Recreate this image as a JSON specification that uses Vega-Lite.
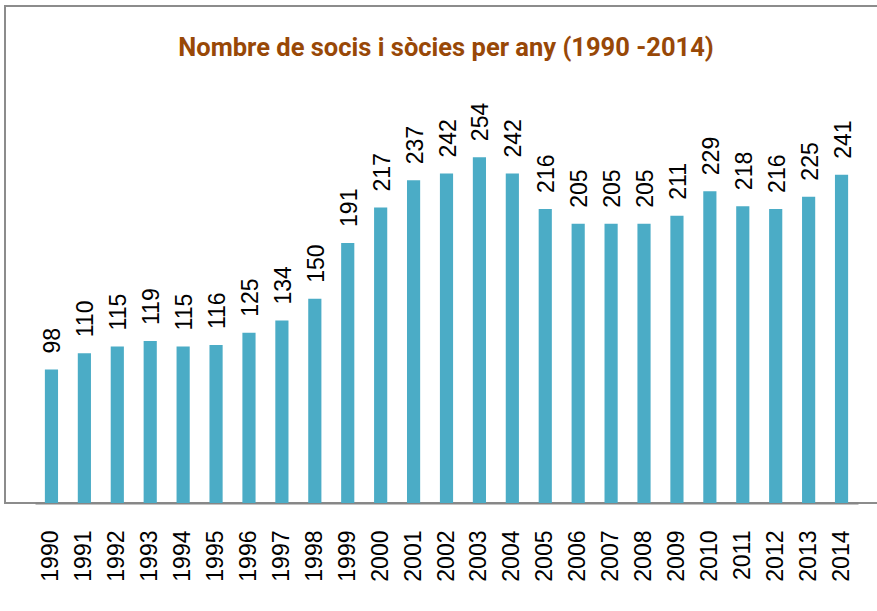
{
  "$schema": "https://vega.github.io/schema/vega-lite/v6.json",
  "width": 882,
  "height": 497,
  "autosize": {"type": "none"},
  "padding": {"left": 5, "top": 6, "right": 0, "bottom": 108},
  "background": "white",
  "title": {
    "text": "Nombre de socis i sòcies per any (1990 -2014)",
    "color": "#984807",
    "font": "Roboto",
    "fontSize": 25.5,
    "fontWeight": "bold",
    "anchor": "middle",
    "offset": -75,
    "baseline": "alphabetic"
  },
  "config": {
    "view": {"stroke": "#8c8c8c", "strokeWidth": 2}
  },
  "data": {
    "values": [
      {"year": "1990", "n": 98},
      {"year": "1991", "n": 110},
      {"year": "1992", "n": 115},
      {"year": "1993", "n": 119},
      {"year": "1994", "n": 115},
      {"year": "1995", "n": 116},
      {"year": "1996", "n": 125},
      {"year": "1997", "n": 134},
      {"year": "1998", "n": 150},
      {"year": "1999", "n": 191},
      {"year": "2000", "n": 217},
      {"year": "2001", "n": 237},
      {"year": "2002", "n": 242},
      {"year": "2003", "n": 254},
      {"year": "2004", "n": 242},
      {"year": "2005", "n": 216},
      {"year": "2006", "n": 205},
      {"year": "2007", "n": 205},
      {"year": "2008", "n": 205},
      {"year": "2009", "n": 211},
      {"year": "2010", "n": 229},
      {"year": "2011", "n": 218},
      {"year": "2012", "n": 216},
      {"year": "2013", "n": 225},
      {"year": "2014", "n": 241}
    ]
  },
  "encoding": {
    "x": {
      "field": "year",
      "type": "ordinal",
      "scale": {"paddingInner": 0.6, "paddingOuter": 0.3, "range": [30, 853]},
      "axis": {
        "title": null,
        "labelAngle": -90,
        "labelFont": "Liberation Sans",
        "labelFontSize": 23,
        "labelColor": "#000000",
        "labelPadding": 27,
        "ticks": false,
        "domainColor": "#868686",
        "domainWidth": 2
      }
    },
    "y": {
      "field": "n",
      "type": "quantitative",
      "scale": {"domain": [0, 365], "nice": false},
      "axis": null
    }
  },
  "layer": [
    {"mark": {"type": "bar", "color": "#4BACC6"}},
    {
      "mark": {
        "type": "text",
        "angle": -90,
        "align": "left",
        "baseline": "middle",
        "dx": 16,
        "dy": 2,
        "font": "Liberation Sans",
        "fontSize": 23,
        "color": "#000000"
      },
      "encoding": {"text": {"field": "n", "type": "quantitative"}}
    }
  ]
}
